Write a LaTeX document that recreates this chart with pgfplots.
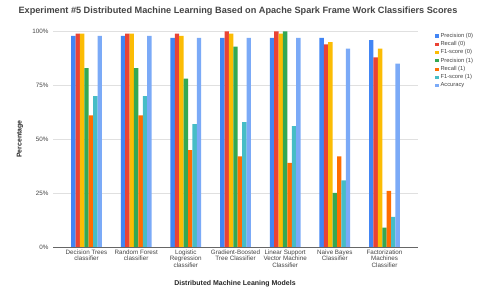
\documentclass[border=0pt]{standalone}
\usepackage{pgfplots}
\pgfplotsset{compat=1.18}
\usepackage{fontspec}
\setmainfont{Liberation Sans}
\definecolor{cP0}{HTML}{4285F4}
\definecolor{cR0}{HTML}{EA4335}
\definecolor{cF0}{HTML}{FBBC04}
\definecolor{cP1}{HTML}{34A853}
\definecolor{cR1}{HTML}{FF6D01}
\definecolor{cF1}{HTML}{46BDC6}
\definecolor{cAcc}{HTML}{7BAAF7}
\definecolor{txt}{HTML}{444444}
\definecolor{gridc}{HTML}{E0E0E0}
\begin{document}
\begin{tikzpicture}
\path[use as bounding box] (0,0) rectangle (480bp,292bp);
\begin{axis}[
  at={(53bp,45bp)}, anchor=south west,
  scale only axis, width=365bp, height=216bp,
  ybar=0pt, bar width=4.4bp,
  xmin=-0.675, xmax=6.675,
  ymin=0, ymax=100,
  xtick={0,1,2,3,4,5,6},
  xticklabels={{Decision Trees\\classifier},{Random Forest\\classifier},{Logistic\\Regression\\classifier},{Gradient-Boosted\\Tree Classifier},{Linear Support\\Vector Machine\\Classifier},{Naive Bayes\\Classifier},{Factorization\\Machines\\Classifier}},
  xticklabel style={align=center, font=\fontsize{6.3}{6.6}\selectfont, text=txt, yshift=1bp},
  ytick={0,25,50,75,100},
  yticklabels={0\%,25\%,50\%,75\%,100\%},
  yticklabel style={font=\fontsize{6.3}{7}\selectfont, text=txt, xshift=-1bp},
  major tick length=0pt,
  xtick style={draw=none}, ytick style={draw=none},
  ymajorgrids, xmajorgrids=false, grid style={draw=gridc, line width=0.5pt},
  axis x line*=bottom, axis y line*=left,
  y axis line style={draw=none},
  x axis line style={draw=black!60, line width=0.6pt, -},
  legend style={at={(1.047,1)}, anchor=north west, draw=none, fill=none,
    font=\fontsize{5.8}{6}\selectfont, text=txt, row sep=-1.4pt,
    inner sep=0pt},
  legend cell align=left,
  legend image code/.code={\fill[#1] (0bp,-1.6bp) rectangle (3.2bp,1.6bp);},
  enlarge x limits=false,
]
\addplot[fill=cP0, draw=none] coordinates {(0,97.8) (1,97.8) (2,96.8) (3,96.8) (4,96.8) (5,96.8) (6,95.8)};
\addplot[fill=cR0, draw=none] coordinates {(0,98.8) (1,98.8) (2,98.8) (3,99.8) (4,99.8) (5,93.8) (6,87.8)};
\addplot[fill=cF0, draw=none] coordinates {(0,98.8) (1,98.8) (2,97.8) (3,98.8) (4,98.8) (5,94.8) (6,91.8)};
\addplot[fill=cP1, draw=none] coordinates {(0,82.8) (1,82.8) (2,78) (3,92.8) (4,99.8) (5,25) (6,9)};
\addplot[fill=cR1, draw=none] coordinates {(0,60.9) (1,60.9) (2,44.9) (3,42) (4,38.9) (5,42) (6,26)};
\addplot[fill=cF1, draw=none] coordinates {(0,69.8) (1,69.8) (2,56.9) (3,57.8) (4,56) (5,30.9) (6,14)};
\addplot[fill=cAcc, draw=none] coordinates {(0,97.8) (1,97.8) (2,96.8) (3,96.8) (4,96.8) (5,91.8) (6,84.9)};
\legend{Precision (0),Recall (0),F1-score (0),Precision (1),Recall (1),F1-score (1),Accuracy}
\end{axis}
\node[font=\bfseries\fontsize{9.2}{10}\selectfont, text=txt] at (238bp,280.5bp) {Experiment \#5 Distributed Machine Learning Based on Apache Spark Frame Work Classifiers Scores};
\node[font=\bfseries\fontsize{7}{8}\selectfont, text=black!85, rotate=90] at (20bp,153bp) {Percentage};
\node[font=\bfseries\fontsize{7}{8}\selectfont, text=black!85] at (235bp,8bp) {Distributed Machine Leaning Models};
\end{tikzpicture}
\end{document}
